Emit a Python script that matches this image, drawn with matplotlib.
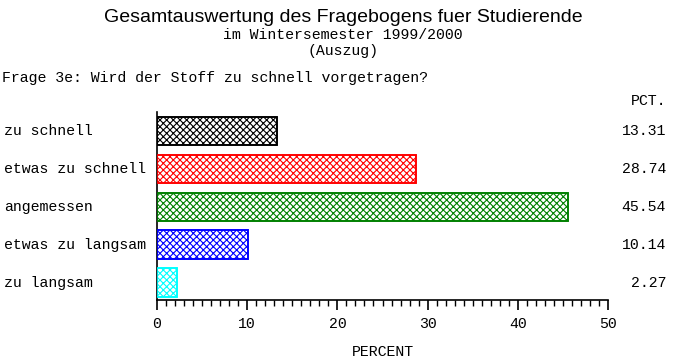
import matplotlib
matplotlib.use('Agg')
import matplotlib.pyplot as plt
import numpy as np

categories = ['zu schnell', 'etwas zu schnell', 'angemessen',
              'etwas zu langsam', 'zu langsam']
percent = [13.31, 28.74, 45.54, 10.14, 2.27]
colors = ['black', 'red', 'green', 'blue', 'cyan']
xticks = [0, 10, 20, 30, 40, 50]

W, H = 685, 364
fig = plt.figure(figsize=(W / 100, H / 100), dpi=100)
mono = 'Liberation Mono'
fs = 10.7

# axes placed in pixel coordinates of the reference
x0, x1 = 157, 608
y_top, y_bot = 112, 300
ax = fig.add_axes([x0 / W, 1 - y_bot / H, (x1 - x0) / W, (y_bot - y_top) / H])

plt.rcParams['hatch.linewidth'] = 0.8
ypos = np.arange(len(categories))
for i, (v, c) in enumerate(zip(percent, colors)):
    plt.rcParams['hatch.color'] = c
    ax.barh(ypos[i], v, height=0.76, color='white', edgecolor=c,
            hatch='xxxxx', linewidth=1.2, zorder=2)
    ax.barh(ypos[i], v, height=0.76, fill=False, edgecolor=c,
            linewidth=1.2, zorder=3)

ax.set_xlim(0, 50)
ax.set_ylim(4.45, -0.5)
ax.spines['top'].set_visible(False)
ax.spines['right'].set_visible(False)
ax.spines['left'].set_linewidth(1.2)
ax.spines['bottom'].set_linewidth(1.2)
ax.set_yticks([])
ax.set_xticks(xticks)
ax.set_xticks(np.arange(0, 51, 1), minor=True)
ax.tick_params(axis='x', which='major', length=7, width=1.2, labelsize=fs, pad=5)
ax.tick_params(axis='x', which='minor', length=4, width=1.0)
for lab in ax.get_xticklabels():
    lab.set_fontfamily(mono)
ax.set_xlabel('PERCENT', fontfamily=mono, fontsize=fs, labelpad=10)

# category labels on the left, values on the right
for i, (cat, v) in enumerate(zip(categories, percent)):
    ax.annotate(cat, xy=(4 / W, ypos[i]), xycoords=('figure fraction', 'data'),
                ha='left', va='center', fontsize=fs, fontfamily=mono)
    ax.annotate('%.2f' % v, xy=(666 / W, ypos[i]),
                xycoords=('figure fraction', 'data'), ha='right', va='center',
                fontsize=fs, fontfamily=mono)

fig.text(666 / W, 1 - 101 / H, 'PCT.', ha='right', va='center',
         fontsize=fs, fontfamily=mono)
fig.text(343 / W, 1 - 18 / H, 'Gesamtauswertung des Fragebogens fuer Studierende',
         ha='center', va='center', fontsize=14, fontfamily='Liberation Sans')
fig.text(343 / W, 1 - 35 / H, 'im Wintersemester 1999/2000', ha='center', va='center',
         fontsize=fs, fontfamily=mono)
fig.text(343 / W, 1 - 51 / H, '(Auszug)', ha='center', va='center',
         fontsize=fs, fontfamily=mono)
fig.text(2 / W, 1 - 78 / H, 'Frage 3e: Wird der Stoff zu schnell vorgetragen?',
         ha='left', va='center', fontsize=fs, fontfamily=mono)

fig.savefig('out.png', dpi=100)
